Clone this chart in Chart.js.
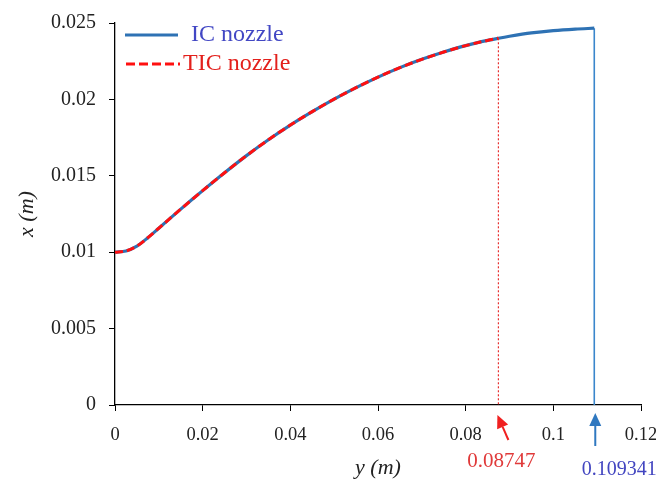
<!DOCTYPE html>
<html>
<head>
<meta charset="utf-8">
<script src="https://cdn.jsdelivr.net/npm/chart.js@4.4.1/dist/chart.umd.min.js"></script>
<style>
  html, body { margin: 0; padding: 0; background: #fff; }
  #wrap { width: 656px; height: 482px; }
</style>
</head>
<body>
<div id="wrap"><canvas id="c" width="656" height="482"></canvas></div>
<script>
// ---- data ----
const icX  = [0, 0.0025, 0.005, 0.0075, 0.01, 0.0125, 0.015, 0.0175, 0.02, 0.025, 0.03, 0.035, 0.04, 0.045, 0.05, 0.055, 0.06, 0.065, 0.07, 0.075, 0.08, 0.085, 0.08747, 0.09, 0.095, 0.1, 0.105, 0.109341];
const icY  = [0.01000, 0.01008, 0.01040, 0.01095, 0.01157, 0.01220, 0.01282, 0.01343, 0.01403, 0.01520, 0.01632, 0.01736, 0.01832, 0.01920, 0.02002, 0.02077, 0.02146, 0.02208, 0.02262, 0.02310, 0.02352, 0.02386, 0.02400, 0.02413, 0.02435, 0.02450, 0.02460, 0.02466];
const ticX = [0, 0.0025, 0.005, 0.0075, 0.01, 0.0125, 0.015, 0.0175, 0.02, 0.025, 0.03, 0.035, 0.04, 0.045, 0.05, 0.055, 0.06, 0.065, 0.07, 0.075, 0.08, 0.085, 0.08747];
const ticY = [0.01000, 0.01008, 0.01040, 0.01095, 0.01157, 0.01220, 0.01282, 0.01343, 0.01403, 0.01520, 0.01632, 0.01736, 0.01832, 0.01920, 0.02002, 0.02077, 0.02146, 0.02208, 0.02262, 0.02310, 0.02352, 0.02386, 0.02400];
const icExit  = 0.109341;
const ticExit = 0.08747;
const seriesNames = ['IC nozzle', 'TIC nozzle'];
const exitLabels = ['0.08747', '0.109341'];
const xTicks = [0, 0.02, 0.04, 0.06, 0.08, 0.1, 0.12];
const yTicks = [0, 0.005, 0.01, 0.015, 0.02, 0.025];
const xTitle = 'y (m)';
const yTitle = 'x (m)';

const BLUE = '#2E72B4';
const RED = '#FF1010';
const SERIF = '"Liberation Serif", "Times New Roman", serif';

const toPts = (xs, ys) => xs.map((x, i) => ({ x: x, y: ys[i] }));

const decorations = {
  id: 'decorations',
  afterDraw(chart) {
    const ctx = chart.ctx;
    const xs = chart.scales.x;
    ctx.save();
    // legend
    ctx.lineWidth = 3;
    ctx.strokeStyle = BLUE;
    ctx.setLineDash([]);
    ctx.beginPath(); ctx.moveTo(125, 35); ctx.lineTo(178, 35); ctx.stroke();
    ctx.strokeStyle = RED;
    ctx.setLineDash([9, 4]);
    ctx.beginPath(); ctx.moveTo(126, 64); ctx.lineTo(180, 64); ctx.stroke();
    ctx.setLineDash([]);
    ctx.font = '24px ' + SERIF;
    ctx.textBaseline = 'alphabetic';
    ctx.textAlign = 'left';
    ctx.fillStyle = '#4247C4';
    ctx.fillText(seriesNames[0], 191, 41);
    ctx.fillStyle = '#E3201C';
    ctx.fillText(seriesNames[1], 183, 70);

    // arrows
    function arrow(x0, y0, x1, y1, color) {
      ctx.strokeStyle = color; ctx.fillStyle = color; ctx.lineWidth = 2;
      const ang = Math.atan2(y1 - y0, x1 - x0);
      const L = 13, W = 6;
      const bx = x1 - L * Math.cos(ang), by = y1 - L * Math.sin(ang);
      ctx.beginPath(); ctx.moveTo(x0, y0); ctx.lineTo(bx, by); ctx.stroke();
      ctx.beginPath();
      ctx.moveTo(x1, y1);
      ctx.lineTo(bx + W * Math.sin(ang), by - W * Math.cos(ang));
      ctx.lineTo(bx - W * Math.sin(ang), by + W * Math.cos(ang));
      ctx.closePath(); ctx.fill();
    }
    const tx = xs.getPixelForValue(ticExit);
    const ix = xs.getPixelForValue(icExit);
    arrow(tx + 10, 440, tx - 1, 415, '#F02020');
    arrow(ix + 1, 446, ix + 1, 413, '#2F78C0');

    ctx.textAlign = 'center';
    ctx.font = '21px ' + SERIF;
    ctx.fillStyle = '#E03A3A';
    ctx.fillText(exitLabels[0], tx + 3, 467);
    ctx.font = '20px ' + SERIF;
    ctx.fillStyle = '#4245C0';
    ctx.fillText(exitLabels[1], ix + 25, 475);
    ctx.restore();
  }
};

const fmt = v => String(parseFloat(Number(v).toFixed(4)));

new Chart(document.getElementById('c'), {
  type: 'scatter',
  data: {
    datasets: [
      { label: seriesNames[1], data: toPts(ticX, ticY), showLine: true, borderColor: RED, borderWidth: 3,
        borderDash: [8, 4], pointRadius: 0, cubicInterpolationMode: 'monotone', order: 0 },
      { label: seriesNames[1] + ' exit', data: [{ x: ticExit, y: ticY[ticY.length - 1] }, { x: ticExit, y: 0 }],
        showLine: true, borderColor: '#E83030', borderWidth: 1.2, borderDash: [2, 2], pointRadius: 0, order: 0 },
      { label: seriesNames[0], data: toPts(icX, icY), showLine: true, borderColor: BLUE, borderWidth: 3.2,
        pointRadius: 0, cubicInterpolationMode: 'monotone', order: 1 },
      { label: seriesNames[0] + ' exit', data: [{ x: icExit, y: icY[icY.length - 1] }, { x: icExit, y: 0 }],
        showLine: true, borderColor: '#3A86CC', borderWidth: 1.6, pointRadius: 0, order: 1 }
    ]
  },
  options: {
    responsive: false,
    animation: false,
    devicePixelRatio: 1,
    layout: { padding: { top: 23, right: 15, left: 0, bottom: 0 } },
    plugins: { legend: { display: false }, tooltip: { enabled: false } },
    scales: {
      x: {
        type: 'linear', min: 0, max: 0.12,
        afterBuildTicks: s => { s.ticks = xTicks.map(v => ({ value: v })); },
        afterFit: s => { s.height = 77; s.paddingLeft = 0; s.paddingRight = 0; },
        ticks: { callback: v => fmt(v), color: '#222', font: { family: SERIF, size: 18.5 }, padding: 13, maxRotation: 0, autoSkip: false },
        grid: { drawOnChartArea: false, drawTicks: true, tickLength: 6, color: '#000', lineWidth: 1 },
        border: { color: '#000', width: 1.3 },
        title: { display: true, text: xTitle, color: '#222', font: { family: SERIF, size: 22, style: 'italic' }, padding: { top: 0, bottom: 1 } }
      },
      y: {
        type: 'linear', min: 0, max: 0.025,
        afterBuildTicks: s => { s.ticks = yTicks.map(v => ({ value: v })); },
        afterFit: s => { s.width = 115; s.paddingTop = 0; s.paddingBottom = 0; },
        ticks: { callback: v => fmt(v), color: '#222', font: { family: SERIF, size: 20 }, padding: 13, autoSkip: false },
        grid: { drawOnChartArea: false, drawTicks: true, tickLength: 6, color: '#000', lineWidth: 1 },
        border: { color: '#000', width: 1.3 },
        title: { display: true, text: yTitle, color: '#222', font: { family: SERIF, size: 22, style: 'italic' }, padding: { top: 14, bottom: 0 } }
      }
    }
  },
  plugins: [decorations]
});
</script>
</body>
</html>
